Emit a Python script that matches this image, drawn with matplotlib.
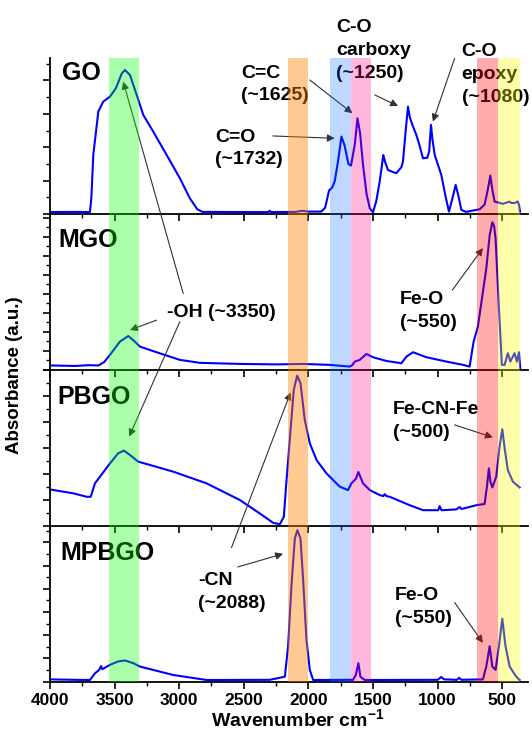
import numpy as np
import matplotlib
matplotlib.use("Agg")
import matplotlib.pyplot as plt
from matplotlib.ticker import MultipleLocator

plt.rcParams['font.family'] = ['Liberation Sans', 'DejaVu Sans']
plt.rcParams['font.weight'] = 'bold'
plt.rcParams['mathtext.fontset'] = 'custom'
plt.rcParams['mathtext.rm'] = 'Liberation Sans:bold'
plt.rcParams['mathtext.default'] = 'rm'

# ---- spectra (wavenumber, relative absorbance in each panel) ----
go_wn = [4000, 3800, 3691, 3680, 3665, 3626, 3588, 3536, 3490, 3445, 3420, 3381, 3329, 3278,
         3201, 3097, 2995, 2917, 2860, 2820, 2500, 2310, 2300, 2290, 2100, 2050, 2000, 1900,
         1870, 1840, 1815, 1796, 1770, 1744, 1720, 1690, 1670, 1640, 1620, 1600, 1577, 1550,
         1525, 1500, 1475, 1448, 1420, 1405, 1384, 1350, 1319, 1280, 1268, 1245, 1229, 1215,
         1195, 1164, 1140, 1113, 1080, 1065, 1051, 1040, 1022, 971, 940, 912, 885, 860, 840,
         816, 780, 674, 636, 610, 592, 575, 558, 494, 442, 430, 403, 380, 370, 362]
go_abs = [0.012, 0.013, 0.012, 0.10, 0.378, 0.656, 0.72, 0.752, 0.806, 0.90, 0.923, 0.891, 0.763,
          0.635, 0.528, 0.378, 0.229, 0.10, 0.03, 0.013, 0.012, 0.012, 0.02, 0.012, 0.013, 0.02,
          0.015, 0.015, 0.04, 0.15, 0.17, 0.21, 0.34, 0.496, 0.44, 0.32, 0.31, 0.45, 0.613, 0.52,
          0.314, 0.13, 0.037, 0.011, 0.08, 0.207, 0.378, 0.33, 0.282, 0.27, 0.261, 0.30, 0.335,
          0.55, 0.688, 0.62, 0.571, 0.506, 0.44, 0.357, 0.36, 0.40, 0.571, 0.48, 0.378, 0.25,
          0.12, 0.015, 0.10, 0.186, 0.12, 0.026, 0.013, 0.03, 0.06, 0.16, 0.246, 0.15, 0.079,
          0.065, 0.079, 0.07, 0.07, 0.08, 0.06, 0.015]

mgo_wn = [4000, 3800, 3700, 3626, 3580, 3536, 3459, 3394, 3343, 3304, 3175, 2995, 2840, 2530,
          2247, 2041, 1834, 1680, 1660, 1641, 1602, 1551, 1500, 1396, 1300, 1280, 1241, 1190,
          1087, 932, 803, 752, 721, 688, 649, 623, 597, 576, 562, 551, 525, 502, 481, 456, 437,
          404, 386, 370, 360]
mgo_abs = [0.028, 0.025, 0.03, 0.028, 0.05, 0.096, 0.181, 0.217, 0.181, 0.149, 0.113, 0.064,
           0.045, 0.038, 0.035, 0.038, 0.032, 0.021, 0.03, 0.053, 0.064, 0.102, 0.081, 0.057,
           0.045, 0.042, 0.085, 0.113, 0.081, 0.053, 0.032, 0.021, 0.181, 0.277, 0.50, 0.649,
           0.862, 0.947, 0.92, 0.84, 0.394, 0.032, 0.032, 0.107, 0.053, 0.107, 0.053, 0.113, 0.01]

pbgo_wn = [4000, 3820, 3716, 3685, 3652, 3613, 3536, 3472, 3428, 3381, 3317, 3252, 3046, 2788,
           2530, 2376, 2273, 2221, 2190, 2169, 2138, 2113, 2087, 2061, 2028, 1989, 1937, 1860,
           1757, 1693, 1667, 1633, 1613, 1577, 1525, 1448, 1420, 1409, 1395, 1370, 1216, 1113,
           1009, 995, 984, 970, 958, 855, 829, 815, 803, 700, 636, 618, 603, 590, 576, 546, 520,
           499, 479, 456, 417, 365]
pbgo_abs = [0.233, 0.208, 0.186, 0.186, 0.272, 0.315, 0.40, 0.465, 0.482, 0.454, 0.411, 0.396,
            0.347, 0.272, 0.165, 0.079, 0.019, 0.01, 0.058, 0.293, 0.614, 0.871, 0.962, 0.915,
            0.679, 0.529, 0.422, 0.336, 0.251, 0.229, 0.272, 0.30, 0.345, 0.272, 0.229, 0.197,
            0.19, 0.203, 0.19, 0.186, 0.132, 0.10, 0.10, 0.10, 0.126, 0.10, 0.10, 0.105, 0.12,
            0.108, 0.11, 0.132, 0.14, 0.251, 0.368, 0.28, 0.246, 0.315, 0.508, 0.619, 0.486,
            0.357, 0.283, 0.246]

mpbgo_wn = [4000, 3800, 3691, 3652, 3620, 3605, 3595, 3536, 3472, 3420, 3356, 3304, 3046, 2788,
            2300, 2182, 2157, 2131, 2105, 2085, 2061, 2041, 2015, 1989, 1963, 1654, 1633, 1613,
            1597, 1564, 1000, 971, 950, 850, 834, 815, 649, 623, 597, 576, 551, 525, 499, 474,
            442, 391, 365]
mpbgo_abs = [0.015, 0.012, 0.011, 0.054, 0.075, 0.10, 0.08, 0.108, 0.13, 0.136, 0.119, 0.097,
             0.043, 0.011, 0.012, 0.032, 0.227, 0.615, 0.918, 0.972, 0.918, 0.659, 0.27, 0.076,
             0.011, 0.012, 0.043, 0.119, 0.032, 0.011, 0.012, 0.03, 0.015, 0.012, 0.025, 0.012,
             0.015, 0.097, 0.227, 0.097, 0.076, 0.227, 0.404, 0.227, 0.097, 0.032, 0.011]

names = ['GO', 'MGO', 'PBGO', 'MPBGO']
spectra = [(go_wn, go_abs), (mgo_wn, mgo_abs), (pbgo_wn, pbgo_abs), (mpbgo_wn, mpbgo_abs)]
ytick_step = [0.107, 0.061, 0.083, 0.0745]

# highlighted regions (from, to) and colours
band_lo = [3540, 2160, 1835, 1672, 695, 535]
band_hi = [3310, 2000, 1672, 1512, 535, 360]
band_colors = ['#00ff00', '#ff8000', '#0064ff', '#ff0080', '#ff0000', '#ffff00']
band_alpha = [0.33, 0.42, 0.25, 0.28, 0.33, 0.33]

fig = plt.figure(figsize=(5.32, 7.32), dpi=100)
gs = fig.add_gridspec(4, 1, left=50/532, right=528/532, top=1-58/732, bottom=1-681.7/732, hspace=0)
axes = [fig.add_subplot(gs[i]) for i in range(4)]

for i, ax in enumerate(axes):
    wn, ab = spectra[i]
    ax.plot(wn, ab, color='#0000ff', lw=1.5, zorder=2)
    for lo, hi, c, a in zip(band_lo, band_hi, band_colors, band_alpha):
        ax.axvspan(hi, lo, color=c, alpha=a, lw=0, zorder=10)
    ax.set_xlim(4000, 300)
    ax.set_ylim(0, 1)
    ax.patch.set_visible(False)
    for s in ['top', 'right']:
        ax.spines[s].set_visible(False)
    for s in ['left', 'bottom']:
        ax.spines[s].set_linewidth(1.3)
    ax.xaxis.set_major_locator(MultipleLocator(500))
    ax.xaxis.set_minor_locator(MultipleLocator(250))
    ax.yaxis.set_major_locator(MultipleLocator(2 * ytick_step[i]))
    ax.yaxis.set_minor_locator(MultipleLocator(ytick_step[i]))
    ax.tick_params(axis='both', which='major', direction='out', length=5, width=1.2)
    ax.tick_params(axis='both', which='minor', direction='out', length=3, width=1.0)
    ax.tick_params(axis='y', labelleft=False)
    if i < 3:
        ax.tick_params(axis='x', labelbottom=False)
    else:
        ax.tick_params(axis='x', labelsize=12.5, pad=3)
        for lab in ax.get_xticklabels():
            lab.set_fontweight('bold')

ax_go, ax_mgo, ax_pbgo, ax_mpbgo = axes

# panel names
name_pos = [(3907, 0.907), (3938, 0.834), (3946, 0.825), (3923, 0.827)]
for ax, nm, (x, y) in zip(axes, names, name_pos):
    ax.text(x, y, nm, fontsize=18, fontweight='bold', ha='left', va='center', zorder=5)

tkw = dict(fontsize=14, fontweight='bold', ha='left', va='center', linespacing=1.45, zorder=5)
ax_go.text(2523, 0.830, 'C=C\n(~1625)', **tkw)
ax_go.text(2724, 0.420, 'C=O\n(~1732)', **tkw)
ax_go.text(1788, 1.048, 'C-O\ncarboxy\n(~1250)', **tkw)
ax_go.text(814, 0.894, 'C-O\nepoxy\n(~1080)', **tkw)
ax_mgo.text(3095, 0.368, '-OH (~3350)', **tkw)
ax_mgo.text(1293, 0.375, 'Fe-O\n(~550)', **tkw)
ax_pbgo.text(1347, 0.670, 'Fe-CN-Fe\n(~500)', **tkw)
ax_mpbgo.text(2855, 0.578, '-CN\n(~2088)', **tkw)
ax_mpbgo.text(1332, 0.477, 'Fe-O\n(~550)', **tkw)

akw = dict(arrowstyle='-|>', color='#303030', lw=0.8, mutation_scale=11, shrinkA=0, shrinkB=0)


def arrow(ax_tail, tail, ax_head, head):
    ax_tail.annotate('', xy=head, xycoords=ax_head.transData, xytext=tail,
                     textcoords=ax_tail.transData, arrowprops=akw, zorder=6,
                     annotation_clip=False)


arrow(ax_go, (1989, 0.859), ax_go, (1659, 0.646))
arrow(ax_go, (2275, 0.500), ax_go, (1796, 0.485))
arrow(ax_go, (1486, 0.763), ax_go, (1306, 0.692))
arrow(ax_go, (868, 0.998), ax_go, (1036, 0.592))
arrow(ax_mgo, (3175, 0.319), ax_mgo, (3381, 0.255))
arrow(ax_go, (2969, -0.51), ax_go, (3433, 0.848))
arrow(ax_mgo, (2995, 0.309), ax_pbgo, (3387, 0.572))
arrow(ax_mgo, (886, 0.511), ax_mgo, (649, 0.781))
arrow(ax_pbgo, (868, 0.647), ax_pbgo, (572, 0.567))
arrow(ax_mpbgo, (2546, 0.736), ax_mpbgo, (2196, 0.820))
arrow(ax_pbgo, (2595, -0.14), ax_pbgo, (2138, 0.855))
arrow(ax_mpbgo, (868, 0.508), ax_mpbgo, (649, 0.249))

fig.text(15/532, 1-375/732, 'Absorbance (a.u.)', rotation=90, fontsize=13.5, fontweight='bold',
         ha='center', va='center')
fig.text(298/532, 1-719/732, 'Wavenumber cm$^{-1}$', fontsize=14, fontweight='bold',
         ha='center', va='center')

fig.savefig('out.png', dpi=100)
